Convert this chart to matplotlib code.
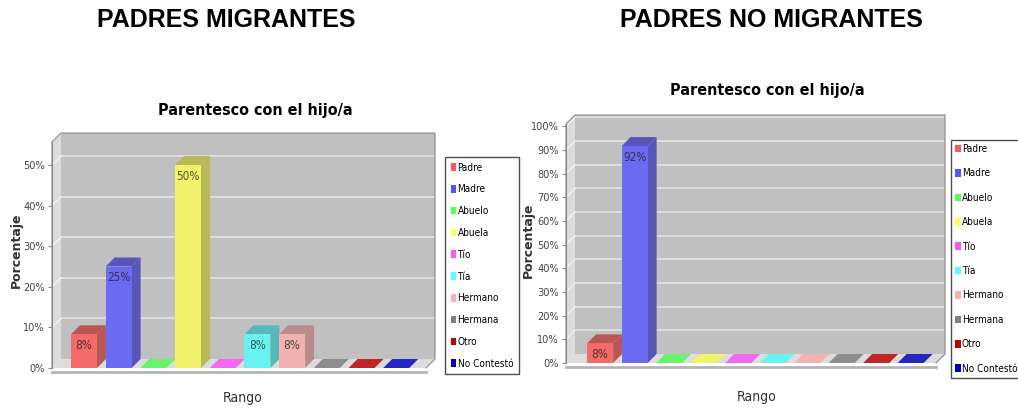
import matplotlib.pyplot as plt
import matplotlib.colors as mcolors
from matplotlib.patches import Polygon, Patch

W, H = 1018, 409

# datos
parentescos = ['Padre', 'Madre', 'Abuelo', 'Abuela', 'Tío', 'Tía',
               'Hermano', 'Hermana', 'Otro', 'No Contestó']
colores = ['#FF5555', '#5555FF', '#55FF55', '#FFFF55', '#FF55FF', '#55FFFF',
           '#FFAFAF', '#808080', '#C00000', '#0000C0']
migrantes = [8.3, 25, 0, 50, 0, 8.3, 8.3, 0, 0, 0]
no_migrantes = [8.3, 91.7, 0, 0, 0, 0, 0, 0, 0, 0]
ticks_migrantes = [0, 10, 20, 30, 40, 50]
ticks_no_migrantes = [0, 10, 20, 30, 40, 50, 60, 70, 80, 90, 100]

GRIS = '#C0C0C0'
FN = dict(family='DejaVu Sans', stretch='condensed')


def fx(x):
    return x / W


def fy(y):
    return 1 - y / H


def mezcla(c, alpha=0.8, fondo=GRIS, factor=1.0):
    r = [v * factor for v in mcolors.to_rgb(c)]
    f = mcolors.to_rgb(fondo)
    return tuple(alpha * a + (1 - alpha) * b for a, b in zip(r, f))


def panel(left, right, top, bottom, step, margen, ppy, valores, ticks):
    ax = fig.add_axes([fx(left), fy(bottom), fx(right - left), (bottom - top) / H])
    x1 = -margen + (right - left) / step
    ymax = (bottom - top) / ppy
    ax.set_xlim(-margen, x1)
    ax.set_ylim(0, ymax)
    ax.patch.set_visible(False)
    dx = 9 / step
    dy = 9 / ppy
    xa = -margen
    xb = x1 - dx

    # paredes
    ax.add_patch(Polygon([(xa, 0), (xa + dx, dy), (xa + dx, ymax), (xa, ymax - dy)],
                         closed=True, fc='#DCDCDC', ec='none', zorder=0))
    ax.add_patch(Polygon([(xa, 0), (xb, 0), (x1, dy), (xa + dx, dy)],
                         closed=True, fc='#DCDCDC', ec='none', zorder=0))
    ax.add_patch(Polygon([(xa + dx, dy), (x1, dy), (x1, ymax), (xa + dx, ymax)],
                         closed=True, fc=GRIS, ec='none', zorder=0))
    for t in ticks[1:]:
        ax.plot([xa + dx, x1], [t + dy, t + dy], color='#E2E2E2', lw=1.2, zorder=1)
        ax.plot([xa, xa + dx], [t, t + dy], color='#F2F2F2', lw=1.0, zorder=1)
    ax.plot([xa, xa, xa + dx, x1, x1, xb], [0, ymax - dy, ymax, ymax, dy, 0],
            color='#8A8A8A', lw=0.8, zorder=1, clip_on=False)

    # barras
    w = 26 / step
    xs = list(range(len(valores)))
    frentes = [mezcla(c) for c in colores]
    ax.bar(xs, valores, width=w, color=frentes, zorder=3)
    for i, v in enumerate(valores):
        c = colores[i]
        l, r = i - w / 2, i + w / 2
        if v > 0:
            oscuro = mezcla(c, factor=0.72)
            ax.add_patch(Polygon([(r, 0), (r + dx, dy), (r + dx, v + dy), (r, v)],
                                 closed=True, fc=oscuro, ec='none', zorder=2))
            ax.add_patch(Polygon([(l, v), (r, v), (r + dx, v + dy), (l + dx, v + dy)],
                                 closed=True, fc=oscuro, ec='none', zorder=2))
            ax.text(i, v - 11 / ppy, '%.0f%%' % v, ha='center', va='center',
                    fontsize=8.5, color='#202020', alpha=0.75, zorder=4, **FN)
        else:
            ax.add_patch(Polygon([(l, 0), (r, 0), (r + dx, dy), (l + dx, dy)],
                                 closed=True, fc=frentes[i], ec='none', zorder=2))

    # ejes
    for s in ['top', 'right', 'bottom']:
        ax.spines[s].set_visible(False)
    ax.spines['left'].set_bounds(0, ymax - dy)
    ax.spines['left'].set_color('#8A8A8A')
    ax.spines['left'].set_linewidth(0.8)
    ax.set_yticks(ticks)
    ax.set_yticklabels(['%d%%' % t for t in ticks], fontsize=7.8,
                       color='#444444', **FN)
    ax.tick_params(axis='y', length=3, width=0.8, color='#8A8A8A', pad=2)
    ax.set_xticks([])
    ax.plot([xa, xb], [-4 / ppy, -4 / ppy], color='#B4B4B4', lw=2, clip_on=False)
    return ax


fig = plt.figure(figsize=(W / 100, H / 100), dpi=100)

fig.text(fx(226), fy(20), 'PADRES MIGRANTES', ha='center', va='center',
         fontsize=18, fontweight='bold', family=['Liberation Sans', 'DejaVu Sans'])
fig.text(fx(771), fy(20), 'PADRES NO MIGRANTES', ha='center', va='center',
         fontsize=18, fontweight='bold', family=['Liberation Sans', 'DejaVu Sans'])

panel(52, 435, 133, 368, 34.7, 0.92, 4.06, migrantes, ticks_migrantes)
panel(566, 945, 115, 363, 34.5, 0.99, 2.366, no_migrantes, ticks_no_migrantes)

for cx, cy in [(255, 110), (767, 90)]:
    fig.text(fx(cx), fy(cy), 'Parentesco con el hijo/a', ha='center', va='center',
             fontsize=11.5, fontweight='bold', **FN)
for cx, cy in [(16, 250), (528, 240)]:
    fig.text(fx(cx), fy(cy), 'Porcentaje', ha='center', va='center', rotation=90,
             fontsize=9, fontweight='bold', color='#333333', family='DejaVu Sans')
for cx, cy in [(243, 398), (757, 397)]:
    fig.text(fx(cx), fy(cy), 'Rango', ha='center', va='center',
             fontsize=10, color='#333333', **FN)

handles = [Patch(facecolor=c, edgecolor='none') for c in colores]
for x, y, sp, bp in [(445, 157, 1.18, 0.55), (951, 140, 1.44, 0.4)]:
    leg = fig.legend(handles, parentescos, loc='upper left',
                     bbox_to_anchor=(fx(x), fy(y)), bbox_transform=fig.transFigure,
                     fancybox=False, frameon=True, borderaxespad=0, borderpad=bp,
                     handlelength=0.55, handleheight=0.8, handletextpad=0.15,
                     labelspacing=sp, prop=dict(size=7.2, **FN))
    leg.get_frame().set_edgecolor('#222222')
    leg.get_frame().set_linewidth(1.0)

fig.savefig('out.png', dpi=100)
